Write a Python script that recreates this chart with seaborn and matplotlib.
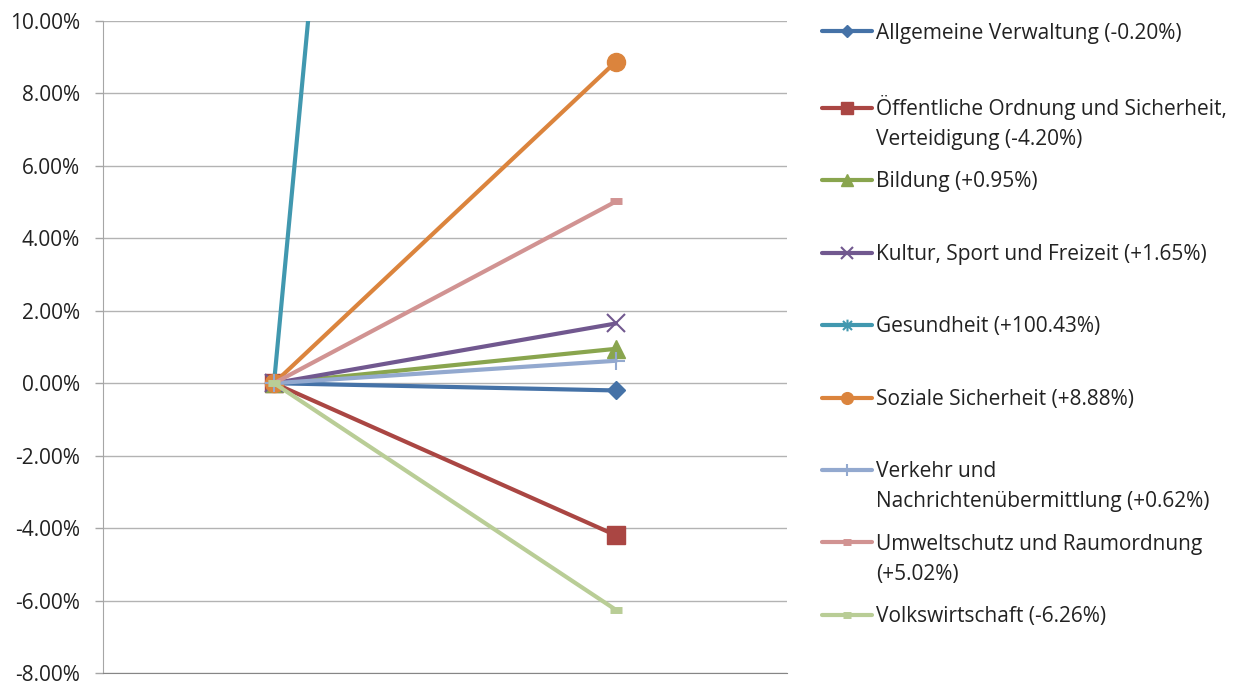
import pandas as pd
import matplotlib
matplotlib.use("Agg")
import matplotlib.pyplot as plt
from matplotlib.path import Path
from matplotlib.ticker import FuncFormatter
import seaborn as sns

# Daten: Veränderung je Aufgabenbereich (in %)
bereiche = [
    "Allgemeine Verwaltung (-0.20%)",
    "Öffentliche Ordnung und Sicherheit,\nVerteidigung (-4.20%)",
    "Bildung (+0.95%)",
    "Kultur, Sport und Freizeit (+1.65%)",
    "Gesundheit (+100.43%)",
    "Soziale Sicherheit (+8.88%)",
    "Verkehr und\nNachrichtenübermittlung (+0.62%)",
    "Umweltschutz und Raumordnung\n(+5.02%)",
    "Volkswirtschaft (-6.26%)",
]
zeitpunkte = [0, 1]
werte_start = [0.0, 0.0, 0.0, 0.0, 0.0, 0.0, 0.0, 0.0, 0.0]
werte_ende = [-0.20, -4.20, 0.95, 1.65, 100.43, 8.88, 0.62, 5.02, -6.26]
y_ticks = [-8, -6, -4, -2, 0, 2, 4, 6, 8, 10]

# Stil (Excel-Farben)
farben = ["#4572A7", "#AA4643", "#89A54E", "#71588F", "#4198AF",
          "#DB843D", "#93A9CF", "#D19392", "#B9CD96"]
stern = Path([(-1, -1), (1, 1), (-1, 1), (1, -1), (0, -1.3), (0, 1.3)],
             [Path.MOVETO, Path.LINETO, Path.MOVETO, Path.LINETO, Path.MOVETO, Path.LINETO])
marker = ["D", "s", "^", "x", stern, "o", "+", "_", "_"]
msize = [9.5, 13, 13, 13, 13, 13, 13, 9, 9]
mew = [1, 1, 1, 1.5, 1.5, 1, 1.5, 5, 5]

rows = []
for b, s, e in zip(bereiche, werte_start, werte_ende):
    rows.append({"bereich": b, "zeit": zeitpunkte[0], "wert": s})
    rows.append({"bereich": b, "zeit": zeitpunkte[1], "wert": e})
df = pd.DataFrame(rows)

sns.set_style("white")
plt.rcParams["font.family"] = ["Open Sans", "DejaVu Sans"]

fig = plt.figure(figsize=(12.41, 6.84), dpi=100)
ax = fig.add_axes([0.083, 0.0161, 0.5512, 0.9532])

handles = []
for i, b in enumerate(bereiche):
    sns.lineplot(data=df[df["bereich"] == b], x="zeit", y="wert", ax=ax,
                 color=farben[i], marker=marker[i], markersize=msize[i],
                 markeredgecolor=farben[i], markerfacecolor=farben[i],
                 markeredgewidth=mew[i], linewidth=3, solid_capstyle="round",
                 legend=False, zorder=3 + i)
    handles.append(ax.lines[-1])

ax.set_xlim(-0.5, 1.5)
ax.set_ylim(-8, 10)
ax.set_yticks(y_ticks)
ax.yaxis.set_major_formatter(FuncFormatter(lambda v, p: f"{v:.2f}%"))
ax.set_xticks([])
ax.set_xlabel("")
ax.set_ylabel("")
ax.grid(axis="y", color="#B3B3B3", linewidth=1)
ax.set_axisbelow(True)
for s in ["top", "right"]:
    ax.spines[s].set_visible(False)
ax.spines["left"].set_color("#A6A6A6")
ax.spines["bottom"].set_color("#868686")
ax.tick_params(axis="y", length=6, width=1, color="#A6A6A6", pad=10.5,
               labelsize=15, labelcolor="#222222", left=True)

# Legende: erste Zeile im Legendenfeld, zweite Zeile darunter
erste = [b.split("\n")[0] for b in bereiche]
leg = ax.legend(handles, erste, loc="upper left", bbox_to_anchor=(0.6624, 0.967),
                bbox_transform=fig.transFigure, frameon=False, borderpad=0,
                borderaxespad=0, handlelength=2.4, handletextpad=0.19,
                labelspacing=2.47, fontsize=15, markerscale=0.65)
for txt, b in zip(leg.get_texts(), bereiche):
    txt.set_color("#222222")
    if "\n" in b:
        ax.annotate(b.split("\n")[1], xy=(0, 0), xycoords=txt,
                    xytext=(0, -21.6), textcoords="offset points",
                    va="bottom", ha="left", fontsize=15, color="#222222",
                    zorder=20, annotation_clip=False)

fig.savefig("out.png", dpi=100)
